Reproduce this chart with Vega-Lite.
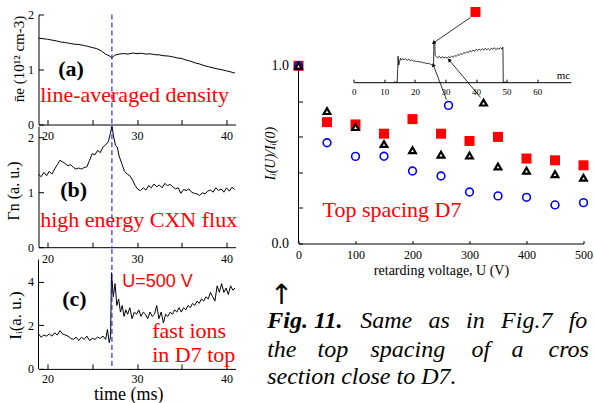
{
"$schema": "https://vega.github.io/schema/vega-lite/v6.json",
"background": "white",
"padding": {"left": 5.5, "top": 6.5, "right": 0, "bottom": 0},
"config": {
  "view": {"stroke": null},
  "font": "Liberation Serif",
  "axis": {"grid": false, "labelFlush": false, "labelOverlap": false, "labelBound": false, "domainColor": "black", "tickColor": "black", "labelColor": "black", "titleColor": "black", "labelFont": "Liberation Serif", "titleFont": "Liberation Serif", "titleFontWeight": "normal", "labelFontSize": 12, "titleFontSize": 15},
  "text": {"font": "Liberation Serif"}
},
"datasets": {
  "dens": [
    {"t":19.0,"v":1.57},{"t":19.5,"v":1.56},{"t":20.0,"v":1.55},{"t":20.5,"v":1.535},{"t":21.0,"v":1.52},{"t":21.5,"v":1.50},{"t":22.0,"v":1.49},{"t":22.5,"v":1.475},{"t":23.0,"v":1.46},{"t":23.5,"v":1.455},{"t":24.0,"v":1.44},{"t":24.5,"v":1.42},{"t":25.0,"v":1.40},{"t":25.5,"v":1.38},{"t":26.0,"v":1.34},{"t":26.5,"v":1.28},{"t":27.0,"v":1.24},{"t":27.2,"v":1.21},{"t":27.5,"v":1.26},{"t":28.0,"v":1.28},{"t":28.5,"v":1.29},{"t":29.0,"v":1.28},{"t":29.5,"v":1.30},{"t":30.0,"v":1.29},{"t":30.5,"v":1.295},{"t":31.0,"v":1.28},{"t":31.5,"v":1.285},{"t":32.0,"v":1.27},{"t":32.5,"v":1.265},{"t":33.0,"v":1.25},{"t":33.5,"v":1.245},{"t":34.0,"v":1.23},{"t":34.5,"v":1.21},{"t":35.0,"v":1.20},{"t":35.5,"v":1.17},{"t":36.0,"v":1.15},{"t":36.5,"v":1.12},{"t":37.0,"v":1.10},{"t":37.5,"v":1.07},{"t":38.0,"v":1.05},{"t":38.5,"v":1.03},{"t":39.0,"v":1.01},{"t":39.5,"v":0.995},{"t":40.0,"v":0.975},{"t":40.5,"v":0.955},{"t":40.95,"v":0.935}
  ],
  "flux": [
    {"t":19.0,"v":1.33},{"t":19.3,"v":1.28},{"t":19.6,"v":1.36},{"t":19.9,"v":1.30},{"t":20.2,"v":1.38},{"t":20.5,"v":1.33},{"t":20.8,"v":1.42},{"t":21.1,"v":1.50},{"t":21.4,"v":1.58},{"t":21.7,"v":1.55},{"t":22.0,"v":1.52},{"t":22.3,"v":1.48},{"t":22.6,"v":1.50},{"t":22.9,"v":1.45},{"t":23.2,"v":1.42},{"t":23.5,"v":1.44},{"t":23.8,"v":1.42},{"t":24.1,"v":1.45},{"t":24.4,"v":1.46},{"t":24.7,"v":1.58},{"t":25.0,"v":1.70},{"t":25.3,"v":1.68},{"t":25.6,"v":1.76},{"t":25.9,"v":1.72},{"t":26.2,"v":1.82},{"t":26.5,"v":1.86},{"t":26.8,"v":1.92},{"t":27.0,"v":2.05},{"t":27.2,"v":2.2},{"t":27.4,"v":2.0},{"t":27.6,"v":1.85},{"t":27.8,"v":1.82},{"t":28.0,"v":1.66},{"t":28.3,"v":1.52},{"t":28.6,"v":1.38},{"t":28.9,"v":1.33},{"t":29.2,"v":1.30},{"t":29.5,"v":1.22},{"t":29.8,"v":1.12},{"t":30.1,"v":1.05},{"t":30.4,"v":1.03},{"t":30.7,"v":1.08},{"t":31.0,"v":1.04},{"t":31.3,"v":1.12},{"t":31.6,"v":1.08},{"t":31.9,"v":1.15},{"t":32.2,"v":1.10},{"t":32.5,"v":1.13},{"t":32.8,"v":1.08},{"t":33.1,"v":1.16},{"t":33.4,"v":1.12},{"t":33.7,"v":1.14},{"t":34.0,"v":1.10},{"t":34.3,"v":1.06},{"t":34.6,"v":1.08},{"t":34.9,"v":0.98},{"t":35.2,"v":1.05},{"t":35.5,"v":1.03},{"t":35.8,"v":1.06},{"t":36.1,"v":1.0},{"t":36.4,"v":0.98},{"t":36.7,"v":0.97},{"t":37.0,"v":0.94},{"t":37.3,"v":0.99},{"t":37.6,"v":0.97},{"t":37.9,"v":1.02},{"t":38.2,"v":1.04},{"t":38.5,"v":1.0},{"t":38.8,"v":1.08},{"t":39.1,"v":1.03},{"t":39.4,"v":1.06},{"t":39.7,"v":1.0},{"t":40.0,"v":1.08},{"t":40.3,"v":1.02},{"t":40.6,"v":1.09},{"t":40.9,"v":1.05}
  ],
  "ions": [
    {"t":19.0,"v":1.6},{"t":19.3,"v":1.45},{"t":19.6,"v":1.55},{"t":19.9,"v":1.5},{"t":20.2,"v":1.6},{"t":20.5,"v":1.5},{"t":20.8,"v":1.65},{"t":21.1,"v":1.55},{"t":21.4,"v":1.75},{"t":21.7,"v":1.6},{"t":22.0,"v":1.55},{"t":22.3,"v":1.5},{"t":22.6,"v":1.4},{"t":22.9,"v":1.35},{"t":23.2,"v":1.45},{"t":23.5,"v":1.3},{"t":23.8,"v":1.45},{"t":24.1,"v":1.35},{"t":24.4,"v":1.5},{"t":24.7,"v":1.3},{"t":25.0,"v":1.4},{"t":25.3,"v":1.35},{"t":25.6,"v":1.45},{"t":25.9,"v":1.4},{"t":26.2,"v":1.5},{"t":26.5,"v":1.35},{"t":26.7,"v":1.8},{"t":26.9,"v":1.2},{"t":27.05,"v":1.5},{"t":27.15,"v":4.4},{"t":27.35,"v":3.3},{"t":27.55,"v":3.9},{"t":27.75,"v":2.9},{"t":27.95,"v":3.2},{"t":28.15,"v":2.6},{"t":28.35,"v":2.9},{"t":28.55,"v":2.4},{"t":28.75,"v":2.7},{"t":28.95,"v":2.5},{"t":29.2,"v":2.8},{"t":29.45,"v":2.3},{"t":29.7,"v":2.6},{"t":29.95,"v":2.5},{"t":30.2,"v":2.7},{"t":30.45,"v":2.4},{"t":30.7,"v":2.6},{"t":30.95,"v":2.5},{"t":31.2,"v":2.3},{"t":31.45,"v":2.6},{"t":31.7,"v":2.4},{"t":31.95,"v":2.5},{"t":32.2,"v":2.9},{"t":32.45,"v":2.3},{"t":32.7,"v":2.6},{"t":32.95,"v":2.1},{"t":33.2,"v":2.5},{"t":33.45,"v":2.4},{"t":33.7,"v":2.6},{"t":33.95,"v":2.5},{"t":34.2,"v":2.7},{"t":34.45,"v":2.6},{"t":34.7,"v":2.8},{"t":34.95,"v":2.6},{"t":35.2,"v":2.8},{"t":35.45,"v":2.7},{"t":35.7,"v":2.9},{"t":35.95,"v":2.8},{"t":36.2,"v":3.0},{"t":36.45,"v":2.9},{"t":36.7,"v":3.1},{"t":36.95,"v":3.0},{"t":37.2,"v":3.2},{"t":37.45,"v":3.1},{"t":37.7,"v":3.3},{"t":37.95,"v":3.2},{"t":38.2,"v":3.5},{"t":38.45,"v":3.3},{"t":38.7,"v":3.1},{"t":38.95,"v":3.8},{"t":39.2,"v":3.5},{"t":39.45,"v":3.9},{"t":39.7,"v":3.5},{"t":39.95,"v":3.7},{"t":40.2,"v":3.4},{"t":40.45,"v":3.8},{"t":40.7,"v":3.6},{"t":40.95,"v":3.7}
  ],
  "main": [
    {"U":0,"sq":1.0,"tri":1.0,"circ":1.0},
    {"U":50,"sq":0.683,"tri":0.745,"circ":0.567},
    {"U":100,"sq":0.67,"tri":0.655,"circ":0.49},
    {"U":150,"sq":0.618,"tri":0.56,"circ":0.491},
    {"U":200,"sq":0.70,"tri":0.525,"circ":0.408},
    {"U":250,"sq":0.618,"tri":0.50,"circ":0.38},
    {"U":300,"sq":0.577,"tri":0.495,"circ":0.29},
    {"U":350,"sq":0.60,"tri":0.433,"circ":0.268},
    {"U":400,"sq":0.478,"tri":0.41,"circ":0.26},
    {"U":450,"sq":0.468,"tri":0.39,"circ":0.217},
    {"U":500,"sq":0.44,"tri":0.37,"circ":0.23}
  ],
  "arrows": [
    {"x": 301.8, "y": 1.272, "x2": 237.7, "y2": 1.131},
    {"x": 259.6, "y": 0.810, "x2": 236.8, "y2": 1.002},
    {"x": 319.3, "y": 0.822, "x2": 264.9, "y2": 1.030}
  ],
  "words": [
    {"x": 108.2, "y": -0.478, "s": "Same"},
    {"x": 228.1, "y": -0.478, "s": "as"},
    {"x": 294.0, "y": -0.478, "s": "in"},
    {"x": 355.4, "y": -0.478, "s": "Fig.7"},
    {"x": -54.9, "y": -0.636, "s": "the"},
    {"x": 33.3, "y": -0.636, "s": "top"},
    {"x": 126.3, "y": -0.636, "s": "spacing"},
    {"x": 303.5, "y": -0.636, "s": "of"},
    {"x": 373.7, "y": -0.636, "s": "a"},
    {"x": -54.9, "y": -0.793, "s": "section close to D7."}
  ],
  "inset": [
    {"t":13,"s":0},{"t":14.2,"s":0},{"t":14.35,"s":1.3},{"t":14.5,"s":2.6},{"t":14.7,"s":1.7},{"t":15.0,"s":2.1},{"t":15.3,"s":2.4},{"t":15.6,"s":2.2},{"t":16.0,"s":2.35},{"t":16.5,"s":2.25},{"t":17.0,"s":2.35},{"t":17.5,"s":2.2},{"t":18.0,"s":2.3},{"t":18.5,"s":2.15},{"t":19.0,"s":2.25},{"t":19.5,"s":2.1},{"t":20.0,"s":2.15},{"t":20.5,"s":2.05},{"t":21.0,"s":2.1},{"t":21.5,"s":2.0},{"t":22.0,"s":2.05},{"t":22.5,"s":1.95},{"t":23.0,"s":1.95},{"t":23.5,"s":1.9},{"t":24.0,"s":1.85},{"t":24.5,"s":1.9},{"t":25.0,"s":1.8},{"t":25.5,"s":1.75},{"t":26.1,"s":1.7},{"t":26.2,"s":4.0},{"t":26.5,"s":4.0},{"t":26.6,"s":2.7},{"t":27.0,"s":2.55},{"t":27.5,"s":2.45},{"t":28.0,"s":2.6},{"t":28.5,"s":2.4},{"t":29.0,"s":2.55},{"t":29.5,"s":2.45},{"t":30.0,"s":2.5},{"t":30.5,"s":2.4},{"t":31.0,"s":2.55},{"t":31.5,"s":2.45},{"t":32.0,"s":2.6},{"t":32.5,"s":2.5},{"t":33.0,"s":2.65},{"t":33.5,"s":2.6},{"t":34.0,"s":2.75},{"t":34.5,"s":2.7},{"t":35.0,"s":2.85},{"t":35.5,"s":2.8},{"t":36.0,"s":2.95},{"t":36.5,"s":2.9},{"t":37.0,"s":3.05},{"t":37.5,"s":2.95},{"t":38.0,"s":3.15},{"t":38.5,"s":3.05},{"t":39.0,"s":3.2},{"t":39.5,"s":3.1},{"t":40.0,"s":3.3},{"t":40.5,"s":3.15},{"t":41.0,"s":3.3},{"t":41.5,"s":3.2},{"t":42.0,"s":3.35},{"t":42.5,"s":3.2},{"t":43.0,"s":3.4},{"t":43.5,"s":3.25},{"t":44.0,"s":3.35},{"t":44.5,"s":3.2},{"t":45.0,"s":3.4},{"t":45.5,"s":3.3},{"t":46.0,"s":3.45},{"t":46.5,"s":3.25},{"t":47.0,"s":3.4},{"t":47.5,"s":3.3},{"t":48.0,"s":3.45},{"t":48.5,"s":3.3},{"t":48.8,"s":3.5},{"t":48.9,"s":0},{"t":50,"s":0}
  ]
},
"hconcat": [
  {
    "vconcat": [
      {
        "width": 197, "height": 110,
        "layer": [
          {"data": {"name": "dens"}, "mark": {"type": "line", "color": "black", "strokeWidth": 1},
           "encoding": {
             "x": {"field": "t", "type": "quantitative", "scale": {"domain": [19, 41], "nice": false, "zero": false}, "axis": {"values": [20,25,30,35,40], "labelExpr": "datum.value % 10 === 0 ? format(datum.value, 'd') : ''", "title": null, "tickSize": -5, "labelPadding": 11}},
             "y": {"field": "v", "type": "quantitative", "scale": {"domain": [0, 2], "nice": false}, "axis": {"values": [0,0.5,1,1.5,2], "labelExpr": "datum.value % 1 === 0 ? format(datum.value, 'd') : ''", "title": "n̄e (10¹² cm-3)", "titleFontSize": 15, "titleX": -20.3, "titleY": 44, "titleBaseline": "middle", "tickSize": -5, "labelPadding": 10}}
           }},
          {"data": {"values": [{"t": 27.2}]}, "mark": {"type": "rule", "color": "#0000ee", "strokeDash": [5, 3], "strokeWidth": 1},
           "encoding": {"x": {"field": "t", "type": "quantitative", "scale": {"domain": [19, 41], "nice": false, "zero": false}}}},
          {"data": {"values": [{"t": 21.2, "v": 0.89, "s": "(a)"}]}, "mark": {"type": "text", "align": "left", "baseline": "alphabetic", "fontSize": 22, "fontWeight": "bold", "color": "black"},
           "encoding": {"x": {"field": "t", "type": "quantitative", "scale": {"domain": [19, 41], "nice": false, "zero": false}}, "y": {"field": "v", "type": "quantitative", "scale": {"domain": [0, 2], "nice": false}}, "text": {"field": "s"}}},
          {"data": {"values": [{"t": 19.19, "v": 0.405, "s": "line-averaged density"}]}, "mark": {"type": "text", "align": "left", "baseline": "alphabetic", "fontSize": 22, "color": "#ff0000"},
           "encoding": {"x": {"field": "t", "type": "quantitative", "scale": {"domain": [19, 41], "nice": false, "zero": false}}, "y": {"field": "v", "type": "quantitative", "scale": {"domain": [0, 2], "nice": false}}, "text": {"field": "s"}}}
        ]
      },
      {
        "width": 197, "height": 121,
        "layer": [
          {"data": {"name": "flux"}, "mark": {"type": "line", "color": "black", "strokeWidth": 1},
           "encoding": {
             "x": {"field": "t", "type": "quantitative", "scale": {"domain": [19, 41], "nice": false, "zero": false}, "axis": {"values": [20,25,30,35,40], "labelExpr": "datum.value % 10 === 0 ? format(datum.value, 'd') : ''", "title": null, "tickSize": -5, "labelPadding": 11}},
             "y": {"field": "v", "type": "quantitative", "scale": {"domain": [0, 2.2], "nice": false}, "axis": {"values": [0,1,2], "labelExpr": "format(datum.value, 'd')", "title": "Γn  (a. u.)", "titleFontSize": 16, "titleX": -24.8, "titleY": 64.3, "titleBaseline": "middle", "tickSize": -5, "labelPadding": 10}}
           }},
          {"data": {"values": [{"t": 27.2}]}, "mark": {"type": "rule", "color": "#0000ee", "strokeDash": [5, 3], "strokeWidth": 1},
           "encoding": {"x": {"field": "t", "type": "quantitative", "scale": {"domain": [19, 41], "nice": false, "zero": false}}}},
          {"data": {"values": [{"t": 21.42, "v": 0.92, "s": "(b)"}]}, "mark": {"type": "text", "align": "left", "baseline": "alphabetic", "fontSize": 22, "fontWeight": "bold", "color": "black"},
           "encoding": {"x": {"field": "t", "type": "quantitative", "scale": {"domain": [19, 41], "nice": false, "zero": false}}, "y": {"field": "v", "type": "quantitative", "scale": {"domain": [0, 2.2], "nice": false}}, "text": {"field": "s"}}},
          {"data": {"values": [{"t": 19.19, "v": 0.376, "s": "high energy CXN flux"}]}, "mark": {"type": "text", "align": "left", "baseline": "alphabetic", "fontSize": 22, "color": "#ff0000"},
           "encoding": {"x": {"field": "t", "type": "quantitative", "scale": {"domain": [19, 41], "nice": false, "zero": false}}, "y": {"field": "v", "type": "quantitative", "scale": {"domain": [0, 2.2], "nice": false}}, "text": {"field": "s"}}}
        ]
      },
      {
        "width": 197, "height": 120,
        "layer": [
          {"data": {"name": "ions"}, "mark": {"type": "line", "color": "black", "strokeWidth": 1},
           "encoding": {
             "x": {"field": "t", "type": "quantitative", "scale": {"domain": [19, 41], "nice": false, "zero": false}, "axis": {"values": [20,25,30,35,40], "labelExpr": "datum.value % 10 === 0 ? format(datum.value, 'd') : ''", "title": "time (ms)", "titleFontSize": 18, "titleX": 89.7, "titleY": 30.5, "titleBaseline": "alphabetic", "tickSize": -5, "labelPadding": 10}},
             "y": {"field": "v", "type": "quantitative", "scale": {"domain": [0, 5.49], "nice": false}, "axis": {"domain": false, "values": [0,1,2,3,4,5], "labelExpr": "format(datum.value, 'd')", "labelOverlap": false, "title": "Iᵢ(a. u.)", "titleFontSize": 17, "titleX": -23.3, "titleY": 66.1, "titleBaseline": "middle", "tickSize": -5, "labelPadding": 10}}
           }},
          {"data": {"values": [{"t": 19, "v": 0, "hi": 5}]}, "mark": {"type": "rule", "color": "black", "strokeWidth": 1},
           "encoding": {"x": {"field": "t", "type": "quantitative", "scale": {"domain": [19, 41], "nice": false, "zero": false}}, "y": {"field": "v", "type": "quantitative", "scale": {"domain": [0, 5.49], "nice": false}}, "y2": {"field": "hi"}}},
          {"data": {"values": [{"t": 27.2}]}, "mark": {"type": "rule", "color": "#0000ee", "strokeDash": [5, 3], "strokeWidth": 1},
           "encoding": {"x": {"field": "t", "type": "quantitative", "scale": {"domain": [19, 41], "nice": false, "zero": false}}}},
          {"data": {"values": [{"t": 21.65, "v": 2.86, "s": "(c)"}]}, "mark": {"type": "text", "align": "left", "baseline": "alphabetic", "fontSize": 22, "fontWeight": "bold", "color": "black"},
           "encoding": {"x": {"field": "t", "type": "quantitative", "scale": {"domain": [19, 41], "nice": false, "zero": false}}, "y": {"field": "v", "type": "quantitative", "scale": {"domain": [0, 5.49], "nice": false}}, "text": {"field": "s"}}},
          {"data": {"values": [{"t": 28.36, "v": 3.74, "s": "U=500 V"}]}, "mark": {"type": "text", "align": "left", "baseline": "alphabetic", "fontSize": 18, "font": "Liberation Sans", "color": "#ff0000"},
           "encoding": {"x": {"field": "t", "type": "quantitative", "scale": {"domain": [19, 41], "nice": false, "zero": false}}, "y": {"field": "v", "type": "quantitative", "scale": {"domain": [0, 5.49], "nice": false}}, "text": {"field": "s"}}},
          {"data": {"values": [{"t": 31.7, "v": 1.40, "s": "fast ions"}, {"t": 31.7, "v": 0.335, "s": "in D7 top"}]}, "mark": {"type": "text", "align": "left", "baseline": "alphabetic", "fontSize": 22, "color": "#ff0000"},
           "encoding": {"x": {"field": "t", "type": "quantitative", "scale": {"domain": [19, 41], "nice": false, "zero": false}}, "y": {"field": "v", "type": "quantitative", "scale": {"domain": [0, 5.49], "nice": false}}, "text": {"field": "s"}}}
        ]
      }
    ],
    "spacing": 1.7,
    "bounds": "flush"
  },
  {
    "width": 285, "height": 229,
    "layer": [
      {
        "layer": [
          {"data": {"name": "main"}, "mark": {"type": "point", "shape": "square", "filled": true, "color": "#ff0000", "size": 100, "opacity": 1},
           "encoding": {
             "x": {"field": "U", "type": "quantitative", "scale": {"domain": [0, 500], "nice": false, "zero": false}, "axis": {"orient": "bottom", "values": [0,25,50,75,100,125,150,175,200,225,250,275,300,325,350,375,400,425,450,475,500], "labelExpr": "datum.value % 50 === 0 ? format(datum.value, 'd') : ''", "title": "retarding voltage, U (V)", "titleFontSize": 14, "titlePadding": 3, "labelFontSize": 12, "tickSize": -3, "labelPadding": 9}},
             "y": {"field": "sq", "type": "quantitative", "scale": {"domain": [0, 1.2887], "nice": false}, "axis": {"orient": "left", "domain": false, "values": [0,0.1,0.2,0.3,0.4,0.5,0.6,0.7,0.8,0.9,1.0], "labelExpr": "(datum.value === 0 || datum.value === 0.5 || datum.value === 1) ? format(datum.value, '.1f') : ''", "title": "Iᵢ(U)/Iᵢ(0)", "titleFontStyle": "italic", "titleFontSize": 14, "titleX": -28, "titleY": 138.5, "titleBaseline": "middle", "labelFontSize": 14, "tickSize": -4, "labelPadding": 14}}
           }},
          {"data": {"values": [{"U": 0, "sq": 0, "hi": 1}]}, "mark": {"type": "rule", "color": "black", "strokeWidth": 1},
           "encoding": {"x": {"field": "U", "type": "quantitative", "scale": {"domain": [0, 500], "nice": false, "zero": false}}, "y": {"field": "sq", "type": "quantitative", "scale": {"domain": [0, 1.2887], "nice": false}}, "y2": {"field": "hi"}}},
          {"data": {"name": "main"}, "mark": {"type": "point", "shape": "circle", "filled": false, "color": "#0000ff", "size": 60, "strokeWidth": 1.6, "opacity": 1},
           "encoding": {"x": {"field": "U", "type": "quantitative", "scale": {"domain": [0, 500], "nice": false, "zero": false}}, "y": {"field": "circ", "type": "quantitative", "scale": {"domain": [0, 1.2887], "nice": false}}}},
          {"data": {"name": "main"}, "mark": {"type": "point", "shape": "triangle-up", "filled": true, "fill": "white", "stroke": "black", "strokeWidth": 2.2, "size": 45, "opacity": 1},
           "encoding": {"x": {"field": "U", "type": "quantitative", "scale": {"domain": [0, 500], "nice": false, "zero": false}}, "y": {"field": "tri", "type": "quantitative", "scale": {"domain": [0, 1.2887], "nice": false}}}},
          {"data": {"values": [{"U": 310.5, "sq": 1.303}]}, "mark": {"type": "point", "shape": "square", "filled": true, "color": "#ff0000", "size": 100, "opacity": 1},
           "encoding": {"x": {"field": "U", "type": "quantitative", "scale": {"domain": [0, 500], "nice": false, "zero": false}}, "y": {"field": "sq", "type": "quantitative", "scale": {"domain": [0, 1.2887], "nice": false}}}},
          {"data": {"values": [{"U": 263.2, "circ": 0.777}]}, "mark": {"type": "point", "shape": "circle", "filled": false, "color": "#0000ff", "size": 60, "strokeWidth": 1.6, "opacity": 1},
           "encoding": {"x": {"field": "U", "type": "quantitative", "scale": {"domain": [0, 500], "nice": false, "zero": false}}, "y": {"field": "circ", "type": "quantitative", "scale": {"domain": [0, 1.2887], "nice": false}}}},
          {"data": {"values": [{"U": 324.6, "tri": 0.793}]}, "mark": {"type": "point", "shape": "triangle-up", "filled": true, "fill": "white", "stroke": "black", "strokeWidth": 2.2, "size": 45, "opacity": 1},
           "encoding": {"x": {"field": "U", "type": "quantitative", "scale": {"domain": [0, 500], "nice": false, "zero": false}}, "y": {"field": "tri", "type": "quantitative", "scale": {"domain": [0, 1.2887], "nice": false}}}},
          {"data": {"name": "arrows"}, "mark": {"type": "rule", "color": "black", "strokeWidth": 0.8},
           "encoding": {"x": {"field": "x", "type": "quantitative", "scale": {"domain": [0, 500], "nice": false, "zero": false}}, "y": {"field": "y", "type": "quantitative", "scale": {"domain": [0, 1.2887], "nice": false}}, "x2": {"field": "x2"}, "y2": {"field": "y2"}}},
          {"data": {"name": "arrows"}, "transform": [{"calculate": "atan2((datum.x2 - datum.x) * 0.57, (datum.y2 - datum.y) * 177.7) * 180 / PI", "as": "ang"}],
           "mark": {"type": "point", "shape": "triangle", "filled": true, "color": "black", "size": 18, "opacity": 1},
           "encoding": {"x": {"field": "x2", "type": "quantitative", "scale": {"domain": [0, 500], "nice": false, "zero": false}}, "y": {"field": "y2", "type": "quantitative", "scale": {"domain": [0, 1.2887], "nice": false}}, "angle": {"field": "ang", "type": "quantitative", "scale": null}}},
          {"data": {"values": [{"x": 42.1, "y": 0.148, "s": "Top spacing D7"}]}, "mark": {"type": "text", "align": "left", "baseline": "alphabetic", "fontSize": 22, "color": "#ff0000"},
           "encoding": {"x": {"field": "x", "type": "quantitative", "scale": {"domain": [0, 500], "nice": false, "zero": false}}, "y": {"field": "y", "type": "quantitative", "scale": {"domain": [0, 1.2887], "nice": false}}, "text": {"field": "s"}}},
          {"data": {"values": [{"x": -29.8, "y": -0.293, "s": "↑"}]}, "mark": {"type": "text", "align": "center", "baseline": "middle", "fontSize": 28, "font": "DejaVu Sans", "color": "black"},
           "encoding": {"x": {"field": "x", "type": "quantitative", "scale": {"domain": [0, 500], "nice": false, "zero": false}}, "y": {"field": "y", "type": "quantitative", "scale": {"domain": [0, 1.2887], "nice": false}}, "text": {"field": "s"}}},
          {"data": {"values": [{"x": -54.9, "y": -0.478, "s": "Fig. 11."}]}, "mark": {"type": "text", "align": "left", "baseline": "alphabetic", "fontSize": 24, "fontStyle": "italic", "fontWeight": "bold", "color": "black"},
           "encoding": {"x": {"field": "x", "type": "quantitative", "scale": {"domain": [0, 500], "nice": false, "zero": false}}, "y": {"field": "y", "type": "quantitative", "scale": {"domain": [0, 1.2887], "nice": false}}, "text": {"field": "s"}}},
          {"data": {"name": "words"}, "mark": {"type": "text", "align": "left", "baseline": "alphabetic", "fontSize": 24, "fontStyle": "italic", "color": "black"},
           "encoding": {"x": {"field": "x", "type": "quantitative", "scale": {"domain": [0, 500], "nice": false, "zero": false}}, "y": {"field": "y", "type": "quantitative", "scale": {"domain": [0, 1.2887], "nice": false}}, "text": {"field": "s"}}},
          {"data": {"values": [{"x": 474.0, "y": -0.478, "s": "for"}]}, "mark": {"type": "text", "align": "left", "baseline": "alphabetic", "fontSize": 24, "fontStyle": "italic", "color": "black", "limit": 25, "ellipsis": "\u200b"},
           "encoding": {"x": {"field": "x", "type": "quantitative", "scale": {"domain": [0, 500], "nice": false, "zero": false}}, "y": {"field": "y", "type": "quantitative", "scale": {"domain": [0, 1.2887], "nice": false}}, "text": {"field": "s"}}},
          {"data": {"values": [{"x": 438.6, "y": -0.636, "s": "cross-"}]}, "mark": {"type": "text", "align": "left", "baseline": "alphabetic", "fontSize": 24, "fontStyle": "italic", "color": "black", "limit": 45, "ellipsis": "\u200b"},
           "encoding": {"x": {"field": "x", "type": "quantitative", "scale": {"domain": [0, 500], "nice": false, "zero": false}}, "y": {"field": "y", "type": "quantitative", "scale": {"domain": [0, 1.2887], "nice": false}}, "text": {"field": "s"}}}
        ]
      },
      {
        "layer": [
          {"data": {"name": "inset"}, "mark": {"type": "line", "color": "black", "strokeWidth": 0.8},
           "encoding": {
             "x": {"field": "t", "type": "quantitative", "scale": {"domain": [0, 71], "range": [55.3, 272.3], "nice": false, "zero": false}, "axis": {"orient": "bottom", "offset": -161.3, "values": [0,5,10,15,20,25,30,35,40,45,50,55,60,65], "labelExpr": "datum.value % 10 === 0 ? format(datum.value, 'd') : ''", "title": null, "tickSize": -3, "labelFontSize": 9, "labelPadding": 8}},
             "y": {"field": "s", "type": "quantitative", "scale": {"domain": [0, 5], "range": [67.7, 17.7], "nice": false}, "axis": null}
           }},
          {"data": {"values": [{"t": 68.6, "s": 0.6, "w": "mc"}]}, "mark": {"type": "text", "align": "center", "baseline": "middle", "fontSize": 11, "color": "black"},
           "encoding": {"x": {"field": "t", "type": "quantitative", "scale": {"domain": [0, 71], "range": [55.3, 272.3], "nice": false, "zero": false}}, "y": {"field": "s", "type": "quantitative", "scale": {"domain": [0, 5], "range": [67.7, 17.7], "nice": false}, "axis": null}, "text": {"field": "w"}}}
        ]
      }
    ],
    "resolve": {"scale": {"x": "independent", "y": "independent"}, "axis": {"x": "independent", "y": "independent"}}
  }
],
"spacing": 260,
"bounds": "flush"
}
